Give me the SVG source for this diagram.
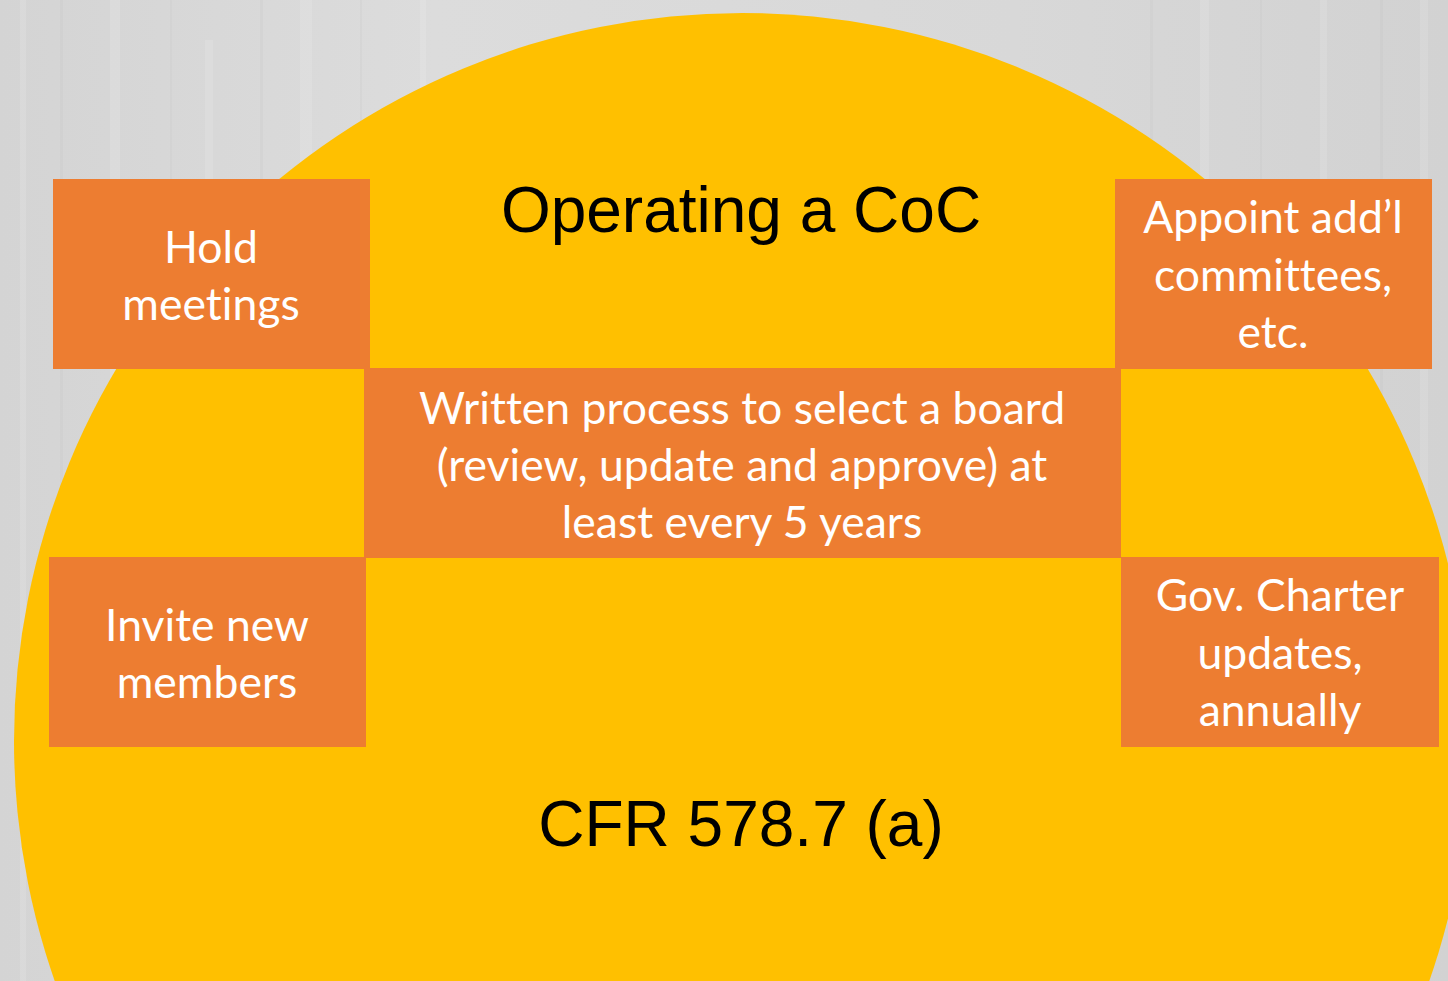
<svg xmlns="http://www.w3.org/2000/svg" width="1448" height="981" viewBox="0 0 1448 981">
<style>
.box{fill:#ED7D31}
.bt{font-family:Lato,"Open Sans",sans-serif;font-size:44.5px;fill:#ffffff;text-anchor:middle;font-variant-ligatures:none;font-feature-settings:"liga" 0}
.tt{font-family:"Liberation Sans",Arial,sans-serif;font-size:64px;fill:#000000;text-anchor:middle}
.st{fill:#ffffff}
.sd{fill:#b8b8b8}
</style>
<defs>
<linearGradient id="bg" x1="0" y1="0" x2="1" y2="0">
<stop offset="0" stop-color="#d4d4d4"/>
<stop offset="0.3" stop-color="#dcdcdc"/>
<stop offset="0.7" stop-color="#d8d8d8"/>
<stop offset="1" stop-color="#d2d2d2"/>
</linearGradient>
</defs>
<g id="background">
<rect x="0" y="0" width="1448" height="981" fill="url(#bg)"/>
<g opacity="0.12">
<rect class="st" x="20" y="0" width="6" height="981"/>
<rect class="sd" x="60" y="0" width="3" height="981"/>
<rect class="st" x="110" y="0" width="10" height="600"/>
<rect class="sd" x="170" y="0" width="2" height="981"/>
<rect class="st" x="205" y="40" width="8" height="500"/>
<rect class="sd" x="260" y="0" width="3" height="981"/>
<rect class="st" x="300" y="0" width="12" height="400"/>
<rect class="sd" x="360" y="0" width="2" height="300"/>
<rect class="st" x="420" y="0" width="6" height="200"/>
<rect class="sd" x="1150" y="0" width="3" height="300"/>
<rect class="st" x="1200" y="0" width="9" height="250"/>
<rect class="sd" x="1260" y="0" width="2" height="400"/>
<rect class="st" x="1320" y="0" width="7" height="350"/>
<rect class="sd" x="1380" y="0" width="3" height="981"/>
<rect class="st" x="1420" y="0" width="8" height="981"/>
</g>
</g>
<g id="circle">
<circle cx="742" cy="741" r="728" fill="#FFC000"/>
</g>
<g id="title">
<text class="tt" x="741" y="232">Operating a CoC</text>
</g>
<g id="hold-meetings">
<rect class="box" x="53" y="179" width="317" height="190"/>
<text class="bt" x="211" y="263">Hold</text>
<text class="bt" x="211" y="320">meetings</text>
</g>
<g id="appoint">
<rect class="box" x="1115" y="179" width="317" height="190"/>
<text class="bt" x="1273" y="233">Appoint add’l</text>
<text class="bt" x="1273" y="291">committees,</text>
<text class="bt" x="1273" y="348">etc.</text>
</g>
<g id="written-process">
<rect class="box" x="364" y="368" width="757" height="190"/>
<text class="bt" x="742" y="424">Written process to select a board</text>
<text class="bt" x="742" y="481">(review, update and approve) at</text>
<text class="bt" x="742" y="538">least every 5 years</text>
</g>
<g id="invite">
<rect class="box" x="49" y="557" width="317" height="190"/>
<text class="bt" x="207" y="641">Invite new</text>
<text class="bt" x="207" y="698">members</text>
</g>
<g id="gov-charter">
<rect class="box" x="1121" y="557" width="318" height="190"/>
<text class="bt" x="1280" y="611">Gov. Charter</text>
<text class="bt" x="1280" y="669">updates,</text>
<text class="bt" x="1280" y="726">annually</text>
</g>
<g id="cfr">
<text class="tt" x="741" y="846">CFR 578.7 (a)</text>
</g>
<g id="connectors"></g>
</svg>
